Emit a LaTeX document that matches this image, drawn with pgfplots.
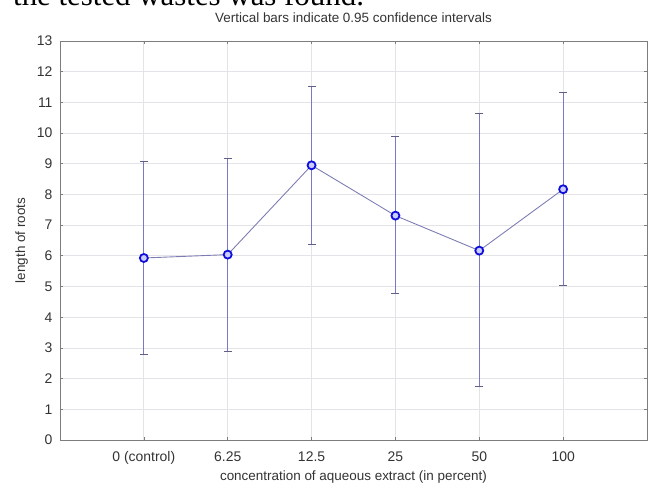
\documentclass[border=0pt]{standalone}
\usepackage{pgfplots}
\pgfplotsset{compat=1.18}
\usepackage{pgfplotstable}
\usepackage{fontspec}
\setmainfont{Liberation Sans}
\newfontfamily\timesfont{Liberation Serif}
\definecolor{linec}{RGB}{125,125,180}
\definecolor{errc}{RGB}{120,120,200}
\definecolor{capc}{RGB}{95,95,135}
\definecolor{markc}{RGB}{15,15,220}
\definecolor{axc}{RGB}{125,125,125}
\definecolor{gridc}{RGB}{228,228,232}

\pgfplotstableread{
x y
0 5.93
1 6.04
2 8.95
3 7.31
4 6.17
5 8.17
}\datatable

\begin{document}
\begin{tikzpicture}
\useasboundingbox (-60bp,-44bp) rectangle (588bp,440bp);
\node[anchor=base west, inner sep=0, font=\timesfont\fontsize{31}{31}\selectfont] at (-47bp,434bp) {the tested wastes was found.};
\begin{axis}[
  at={(0,0)}, anchor=south west,
  scale only axis, width=587bp, height=399bp,
  xmin=-1, xmax=6, ymin=0, ymax=13,
  xtick={0,...,5},
  xticklabels={0 (control),6.25,12.5,25,50,100},
  ytick={0,...,13},
  grid=major,
  grid style={gridc, line width=0.8pt},
  axis line style={axc, line width=0.9pt},
  tick style={axc, line width=0.7pt},
  tick align=inside,
  major tick length=3bp,
  /pgf/number format/assume math mode=true,
  tick label style={font=\fontsize{14}{16}\selectfont, text=black!80},
  yticklabel style={anchor=east, xshift=-4bp},
  xticklabel style={anchor=base, yshift=-21bp},
  title={Vertical bars indicate 0.95 confidence intervals},
  title style={font=\fontsize{13.5}{15}\selectfont, text=black!80, anchor=base, at={(axis description cs:0.5,1)}, yshift=13bp},
  xlabel={concentration of aqueous extract (in percent)},
  xlabel style={font=\fontsize{13.5}{15}\selectfont, text=black!80, anchor=base, at={(axis description cs:0.5,0)}, yshift=-40bp},
  ylabel={length of roots},
  ylabel style={font=\fontsize{13.5}{15}\selectfont, text=black!80, anchor=base, at={(axis description cs:-0.0596,0.5)}},
  errbar/.style={forget plot, draw=errc, line width=1.2pt, mark=-, mark size=4bp, mark options={draw=capc, line width=0.8pt}},
]
\addplot[errbar] coordinates {(0,2.80) (0,9.08)};
\addplot[errbar] coordinates {(1,2.90) (1,9.19)};
\addplot[errbar] coordinates {(2,6.38) (2,11.51)};
\addplot[errbar] coordinates {(3,4.77) (3,9.88)};
\addplot[errbar] coordinates {(4,1.74) (4,10.64)};
\addplot[errbar] coordinates {(5,5.05) (5,11.33)};
\addplot[
  color=linec, line width=0.9pt,
  mark=*, mark size=4bp,
  mark options={draw=markc, fill=white!80!blue, line width=1.8pt},
] table[x=x, y=y] {\datatable};
\end{axis}
\end{tikzpicture}
\end{document}
